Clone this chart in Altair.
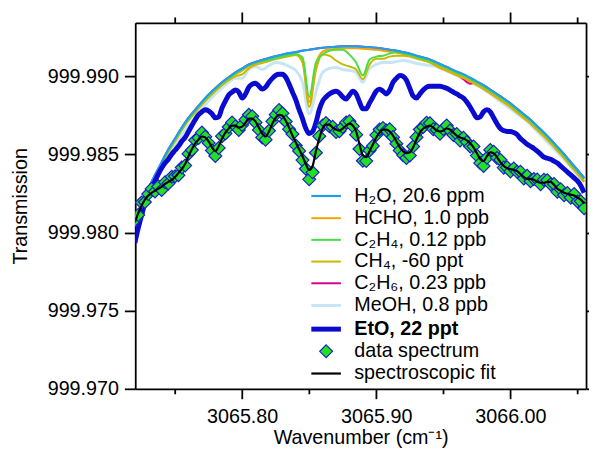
import altair as alt
import pandas as pd

FONT = "Liberation Sans"

# wavenumber grids (cm-1)
WN_COARSE = [
    3065.720, 3065.725, 3065.730, 3065.735, 3065.740, 3065.745, 3065.750, 3065.755, 3065.760, 3065.765,
    3065.770, 3065.775, 3065.780, 3065.785, 3065.790, 3065.795, 3065.800, 3065.805, 3065.810, 3065.815,
    3065.820, 3065.825, 3065.830, 3065.835, 3065.840, 3065.845, 3065.850, 3065.855, 3065.860, 3065.865,
    3065.870, 3065.875, 3065.880, 3065.885, 3065.890, 3065.895, 3065.900, 3065.905, 3065.910, 3065.915,
    3065.920, 3065.925, 3065.930, 3065.935, 3065.940, 3065.945, 3065.950, 3065.955, 3065.960, 3065.965,
    3065.970, 3065.975, 3065.980, 3065.985, 3065.990, 3065.995, 3066.000, 3066.005, 3066.010, 3066.015,
    3066.020, 3066.025, 3066.030, 3066.035, 3066.040, 3066.045, 3066.050, 3066.055,
]
WN_FINE = [
    3065.7200, 3065.7225, 3065.7250, 3065.7275, 3065.7300, 3065.7325, 3065.7350, 3065.7375, 3065.7400, 3065.7425,
    3065.7450, 3065.7475, 3065.7500, 3065.7525, 3065.7550, 3065.7575, 3065.7600, 3065.7625, 3065.7650, 3065.7675,
    3065.7700, 3065.7725, 3065.7750, 3065.7775, 3065.7800, 3065.7825, 3065.7850, 3065.7875, 3065.7900, 3065.7925,
    3065.7950, 3065.7975, 3065.8000, 3065.8025, 3065.8050, 3065.8075, 3065.8100, 3065.8125, 3065.8150, 3065.8175,
    3065.8200, 3065.8225, 3065.8250, 3065.8275, 3065.8300, 3065.8325, 3065.8350, 3065.8375, 3065.8400, 3065.8425,
    3065.8450, 3065.8475, 3065.8500, 3065.8525, 3065.8550, 3065.8575, 3065.8600, 3065.8625, 3065.8650, 3065.8675,
    3065.8700, 3065.8725, 3065.8750, 3065.8775, 3065.8800, 3065.8825, 3065.8850, 3065.8875, 3065.8900, 3065.8925,
    3065.8950, 3065.8975, 3065.9000, 3065.9025, 3065.9050, 3065.9075, 3065.9100, 3065.9125, 3065.9150, 3065.9175,
    3065.9200, 3065.9225, 3065.9250, 3065.9275, 3065.9300, 3065.9325, 3065.9350, 3065.9375, 3065.9400, 3065.9425,
    3065.9450, 3065.9475, 3065.9500, 3065.9525, 3065.9550, 3065.9575, 3065.9600, 3065.9625, 3065.9650, 3065.9675,
    3065.9700, 3065.9725, 3065.9750, 3065.9775, 3065.9800, 3065.9825, 3065.9850, 3065.9875, 3065.9900, 3065.9925,
    3065.9950, 3065.9975, 3066.0000, 3066.0025, 3066.0050, 3066.0075, 3066.0100, 3066.0125, 3066.0150, 3066.0175,
    3066.0200, 3066.0225, 3066.0250, 3066.0275, 3066.0300, 3066.0325, 3066.0350, 3066.0375, 3066.0400, 3066.0425,
    3066.0450, 3066.0475, 3066.0500, 3066.0525, 3066.0550,
]

H2O = [
    999.98090, 999.98185, 999.98280, 999.98368, 999.98450, 999.98532, 999.98601, 999.98671, 999.98734, 999.98785,
    999.98835, 999.98882, 999.98923, 999.98961, 999.98993, 999.99024, 999.99049, 999.99075, 999.99091, 999.99103,
    999.99116, 999.99128, 999.99138, 999.99147, 999.99154, 999.99163, 999.99169, 999.99176, 999.99182, 999.99185,
    999.99188, 999.99191, 999.99191, 999.99191, 999.99188, 999.99185, 999.99182, 999.99176, 999.99169, 999.99163,
    999.99154, 999.99144, 999.99131, 999.99119, 999.99106, 999.99087, 999.99068, 999.99049, 999.99030, 999.99012,
    999.98990, 999.98967, 999.98942, 999.98914, 999.98885, 999.98857, 999.98826, 999.98791, 999.98756, 999.98721,
    999.98680, 999.98639, 999.98595, 999.98548, 999.98501, 999.98450, 999.98400, 999.98349,
]
HCHO = [
    999.98081, 999.98176, 999.98270, 999.98358, 999.98440, 999.98522, 999.98592, 999.98661, 999.98724, 999.98776,
    999.98825, 999.98873, 999.98914, 999.98951, 999.98984, 999.99011, 999.99036, 999.99062, 999.99078, 999.99090,
    999.99103, 999.99115, 999.99125, 999.99134, 999.99141, 999.99112, 999.98835, 999.99075, 999.99157, 999.99172,
    999.99175, 999.99178, 999.99178, 999.99178, 999.99175, 999.99172, 999.99169, 999.99163, 999.99156, 999.99150,
    999.99141, 999.99131, 999.99118, 999.99106, 999.99093, 999.99068, 999.99049, 999.99030, 999.99011, 999.98993,
    999.98971, 999.98948, 999.98923, 999.98895, 999.98866, 999.98838, 999.98807, 999.98772, 999.98737, 999.98702,
    999.98661, 999.98620, 999.98576, 999.98529, 999.98482, 999.98431, 999.98381, 999.98330,
]
C2H4 = [
    999.98084, 999.98179, 999.98274, 999.98362, 999.98444, 999.98526, 999.98595, 999.98665, 999.98728, 999.98779,
    999.98829, 999.98876, 999.98917, 999.98955, 999.98987, 999.99018, 999.99043, 999.99069, 999.99085, 999.99097,
    999.99103, 999.99115, 999.99125, 999.99134, 999.99141, 999.99119, 999.98867, 999.99087, 999.99138, 999.99163,
    999.99169, 999.99169, 999.99138, 999.99087, 999.99005, 999.99106, 999.99125, 999.99131, 999.99144, 999.99154,
    999.99145, 999.99135, 999.99122, 999.99110, 999.99097, 999.99078, 999.99059, 999.99040, 999.99021, 999.99003,
    999.98981, 999.98958, 999.98933, 999.98905, 999.98876, 999.98848, 999.98817, 999.98782, 999.98747, 999.98712,
    999.98671, 999.98630, 999.98586, 999.98539, 999.98492, 999.98441, 999.98391, 999.98340,
]
CH4 = [
    999.98071, 999.98166, 999.98261, 999.98349, 999.98431, 999.98513, 999.98582, 999.98652, 999.98715, 999.98766,
    999.98816, 999.98863, 999.98904, 999.98942, 999.98974, 999.98999, 999.99012, 999.99049, 999.99072, 999.99084,
    999.99097, 999.99109, 999.99119, 999.99128, 999.99135, 999.99087, 999.98803, 999.99037, 999.99138, 999.99131,
    999.99100, 999.99075, 999.99062, 999.99043, 999.98980, 999.99075, 999.99112, 999.99112, 999.99125, 999.99131,
    999.99131, 999.99125, 999.99112, 999.99100, 999.99087, 999.99062, 999.99043, 999.99024, 999.99005, 999.98987,
    999.98965, 999.98942, 999.98917, 999.98889, 999.98860, 999.98832, 999.98801, 999.98766, 999.98731, 999.98696,
    999.98655, 999.98614, 999.98570, 999.98523, 999.98476, 999.98425, 999.98375, 999.98324,
]
C2H6 = [
    999.98090, 999.98185, 999.98280, 999.98368, 999.98450, 999.98532, 999.98601, 999.98671, 999.98734, 999.98785,
    999.98835, 999.98882, 999.98923, 999.98961, 999.98993, 999.99024, 999.99049, 999.99075, 999.99091, 999.99103,
    999.99116, 999.99128, 999.99138, 999.99147, 999.99154, 999.99163, 999.99169, 999.99176, 999.99182, 999.99185,
    999.99188, 999.99191, 999.99191, 999.99191, 999.99188, 999.99185, 999.99182, 999.99176, 999.99169, 999.99163,
    999.99154, 999.99144, 999.99131, 999.99119, 999.99106, 999.99087, 999.99068, 999.99049, 999.99018, 999.98980,
    999.98952, 999.98961, 999.98942, 999.98914, 999.98885, 999.98857, 999.98826, 999.98791, 999.98756, 999.98721,
    999.98680, 999.98639, 999.98595, 999.98548, 999.98501, 999.98450, 999.98400, 999.98349,
]
MEOH = [
    999.98040, 999.98141, 999.98236, 999.98324, 999.98406, 999.98482, 999.98551, 999.98620, 999.98684, 999.98734,
    999.98791, 999.98841, 999.98886, 999.98923, 999.98961, 999.98986, 999.98986, 999.99043, 999.99062, 999.99043,
    999.99068, 999.99087, 999.99081, 999.99062, 999.99037, 999.98961, 999.98759, 999.98898, 999.99024, 999.99049,
    999.99056, 999.99043, 999.99037, 999.99024, 999.98961, 999.99049, 999.99075, 999.99087, 999.99087, 999.99093,
    999.99100, 999.99093, 999.99081, 999.99075, 999.99068, 999.99062, 999.99043, 999.99024, 999.99005, 999.98986,
    999.98967, 999.98942, 999.98917, 999.98886, 999.98854, 999.98822, 999.98791, 999.98759, 999.98728, 999.98690,
    999.98646, 999.98601, 999.98557, 999.98513, 999.98469, 999.98419, 999.98368, 999.98324,
]
ETO = [
    999.97933, 999.98027, 999.98109, 999.98185, 999.98236, 999.98280, 999.98330, 999.98374, 999.98412, 999.98444,
    999.98469, 999.98501, 999.98526, 999.98551, 999.98583, 999.98608, 999.98646, 999.98684, 999.98721, 999.98753,
    999.98772, 999.98785, 999.98778, 999.98759, 999.98734, 999.98740, 999.98797, 999.98841, 999.98879, 999.98898,
    999.98911, 999.98898, 999.98860, 999.98886, 999.98930, 999.98949, 999.98955, 999.98936, 999.98917, 999.98930,
    999.98961, 999.98986, 999.99005, 999.99012, 999.99012, 999.98993, 999.98949, 999.98898, 999.98848, 999.98785,
    999.98728, 999.98665, 999.98633, 999.98646, 999.98702, 999.98785, 999.98841, 999.98867, 999.98886, 999.98898,
    999.98904, 999.98892, 999.98867, 999.98854, 999.98879, 999.98904, 999.98886, 999.98835, 999.98791, 999.98791,
    999.98829, 999.98867, 999.98904, 999.98917, 999.98904, 999.98886, 999.98911, 999.98961, 999.98986, 999.99005,
    999.98999, 999.98974, 999.98923, 999.98873, 999.98860, 999.98886, 999.98911, 999.98930, 999.98936, 999.98936,
    999.98936, 999.98936, 999.98930, 999.98923, 999.98911, 999.98898, 999.98886, 999.98873, 999.98860, 999.98835,
    999.98803, 999.98766, 999.98734, 999.98740, 999.98772, 999.98785, 999.98772, 999.98734, 999.98696, 999.98665,
    999.98652, 999.98646, 999.98646, 999.98639, 999.98627, 999.98601, 999.98583, 999.98564, 999.98551, 999.98538,
    999.98520, 999.98501, 999.98482, 999.98475, 999.98469, 999.98456, 999.98444, 999.98425, 999.98406, 999.98387,
    999.98368, 999.98349, 999.98330, 999.98299, 999.98254,
]
FIT = [
    999.98065, 999.98122, 999.98172, 999.98210, 999.98236, 999.98254, 999.98267, 999.98280, 999.98292, 999.98311,
    999.98324, 999.98337, 999.98355, 999.98381, 999.98406, 999.98438, 999.98488, 999.98532, 999.98570, 999.98595,
    999.98614, 999.98608, 999.98583, 999.98545, 999.98520, 999.98551, 999.98601, 999.98639, 999.98665, 999.98684,
    999.98684, 999.98671, 999.98677, 999.98702, 999.98728, 999.98728, 999.98709, 999.98671, 999.98633, 999.98614,
    999.98646, 999.98696, 999.98734, 999.98753, 999.98747, 999.98715, 999.98671, 999.98620, 999.98576, 999.98532,
    999.98488, 999.98438, 999.98400, 999.98425, 999.98520, 999.98601, 999.98665, 999.98690, 999.98690, 999.98671,
    999.98658, 999.98652, 999.98665, 999.98684, 999.98696, 999.98684, 999.98646, 999.98564, 999.98494, 999.98482,
    999.98520, 999.98564, 999.98608, 999.98639, 999.98658, 999.98658, 999.98646, 999.98620, 999.98583, 999.98545,
    999.98520, 999.98507, 999.98513, 999.98545, 999.98595, 999.98639, 999.98665, 999.98677, 999.98684, 999.98671,
    999.98652, 999.98646, 999.98652, 999.98665, 999.98658, 999.98639, 999.98620, 999.98608, 999.98601, 999.98589,
    999.98570, 999.98545, 999.98507, 999.98469, 999.98456, 999.98488, 999.98513, 999.98507, 999.98482, 999.98450,
    999.98425, 999.98412, 999.98406, 999.98400, 999.98393, 999.98374, 999.98355, 999.98343, 999.98343, 999.98337,
    999.98324, 999.98318, 999.98318, 999.98324, 999.98324, 999.98305, 999.98280, 999.98267, 999.98254, 999.98248,
    999.98242, 999.98236, 999.98223, 999.98210, 999.98185,
]
DATA = [
    999.98080, 999.98112, 999.98192, 999.98195, 999.98246, 999.98279, 999.98262, 999.98295, 999.98272, 999.98321,
    999.98314, 999.98357, 999.98360, 999.98366, 999.98416, 999.98428, 999.98503, 999.98527, 999.98590, 999.98605,
    999.98639, 999.98613, 999.98573, 999.98525, 999.98490, 999.98541, 999.98616, 999.98634, 999.98675, 999.98704,
    999.98679, 999.98656, 999.98687, 999.98722, 999.98753, 999.98743, 999.98704, 999.98656, 999.98608, 999.98594,
    999.98651, 999.98711, 999.98754, 999.98783, 999.98762, 999.98710, 999.98661, 999.98630, 999.98556, 999.98522,
    999.98463, 999.98408, 999.98340, 999.98385, 999.98510, 999.98616, 999.98685, 999.98700, 999.98680, 999.98676,
    999.98643, 999.98647, 999.98675, 999.98704, 999.98711, 999.98679, 999.98626, 999.98534, 999.98459, 999.98457,
    999.98525, 999.98554, 999.98623, 999.98659, 999.98668, 999.98653, 999.98661, 999.98610, 999.98568, 999.98525,
    999.98495, 999.98477, 999.98493, 999.98550, 999.98610, 999.98659, 999.98675, 999.98702, 999.98699, 999.98661,
    999.98657, 999.98631, 999.98662, 999.98685, 999.98653, 999.98624, 999.98630, 999.98588, 999.98606, 999.98579,
    999.98550, 999.98550, 999.98492, 999.98444, 999.98426, 999.98478, 999.98528, 999.98517, 999.98477, 999.98465,
    999.98415, 999.98417, 999.98391, 999.98410, 999.98388, 999.98389, 999.98345, 999.98363, 999.98328, 999.98342,
    999.98339, 999.98308, 999.98338, 999.98334, 999.98309, 999.98310, 999.98260, 999.98277, 999.98239, 999.98253,
    999.98222, 999.98246, 999.98198, 999.98200, 999.98155,
]

SERIES = ["H₂O, 20.6 ppm", "HCHO, 1.0 ppb", "C₂H₄, 0.12 ppb", "CH₄, -60 ppt", "C₂H₆, 0.23 ppb",
          "MeOH, 0.8 ppb", "EtO, 22 ppt", "data spectrum", "spectroscopic fit"]
COLORS = ["#1e9fea", "#f7a400", "#44e044", "#c8b800", "#d4008f",
          "#c6e6f8", "#0a0ad0", "#1c1cd0", "#000000"]
WIDTHS = [2.2, 2, 2, 2, 2, 3, 5, 1.2, 2.2]
X_TICKS = [3065.75, 3065.80, 3065.85, 3065.90, 3065.95, 3066.00, 3066.05]
Y_TICKS = [999.970, 999.975, 999.980, 999.985, 999.990]
X_DOMAIN = [3065.7203, 3066.0564]
Y_DOMAIN = [999.970, 999.99341]


def frame(wn, vals, name):
    return pd.DataFrame({"wn": wn, "t": vals, "series": name})


XS = alt.Scale(domain=X_DOMAIN, nice=False, zero=False)
YS = alt.Scale(domain=Y_DOMAIN, nice=False, zero=False)

AX = dict(grid=False, domainColor="black", domainWidth=1.8, tickColor="black", tickWidth=1.8,
          labelFont=FONT, labelFontSize=20, labelColor="black",
          titleFont=FONT, titleFontSize=20, titleFontWeight="normal", titleColor="black")
MINOR = "round(datum.value * 20) % 2 == 1"

x_bottom = alt.Axis(orient="bottom", values=X_TICKS,
                    tickSize={"condition": {"test": MINOR, "value": 5}, "value": 10},
                    labelExpr="round(datum.value * 20) % 2 == 1 ? '' : format(datum.value, '.2f')",
                    labelPadding=8, labelOverlap=False, title="Wavenumber (cm⁻¹)", titlePadding=1, **AX)
x_top = alt.Axis(orient="top", values=X_TICKS,
                 tickSize={"condition": {"test": MINOR, "value": 6}, "value": 11},
                 labels=False, title="", **AX)
y_left = alt.Axis(orient="left", values=Y_TICKS, format=".3f", tickSize=11, labelPadding=6,
                  labelOverlap=False, title="Transmission", titlePadding=17, **AX)
y_right = alt.Axis(orient="right", values=Y_TICKS, tickSize=8, labels=False, title="", **AX)

IS_DATA = "datum.value === 'data spectrum'"
LEGEND = alt.Legend(
    title=None, orient="none", legendX=181, legendY=164, padding=0,
    symbolType={"expr": IS_DATA + " ? 'M0,-0.65L0.65,0L0,0.65L-0.65,0Z' : 'M-1.5,0H1.5'"},
    symbolFillColor={"expr": IS_DATA + " ? '#22e022' : 'transparent'"},
    symbolSize=400,
    labelFont=FONT, labelFontSize=20, labelColor="black", labelOffset=16, labelLimit=320,
    labelFontWeight={"expr": "datum.value === 'EtO, 22 ppt' ? 'bold' : 'normal'"},
    rowPadding=1,
)
COLOR = alt.Color("series:N", scale=alt.Scale(domain=SERIES, range=COLORS), legend=LEGEND)
WIDTH = alt.StrokeWidth("series:N", scale=alt.Scale(type="ordinal", domain=SERIES, range=WIDTHS),
                        legend=LEGEND)


def line(df, xaxis, yaxis):
    return alt.Chart(df).mark_line(interpolate="monotone", clip=True).encode(
        x=alt.X("wn:Q", scale=XS, axis=xaxis),
        y=alt.Y("t:Q", scale=YS, axis=yaxis),
        color=COLOR,
        strokeWidth=WIDTH,
    )


layers = [
    line(frame(WN_COARSE, MEOH, SERIES[5]), x_bottom, y_left),
    line(frame(WN_COARSE, C2H6, SERIES[4]), x_top, y_right),
    line(frame(WN_COARSE, CH4, SERIES[3]), None, None),
    line(frame(WN_COARSE, HCHO, SERIES[1]), None, None),
    line(frame(WN_COARSE, C2H4, SERIES[2]), None, None),
    line(frame(WN_COARSE, H2O, SERIES[0]), None, None),
    line(frame(WN_FINE, ETO, SERIES[6]), None, None),
    alt.Chart(frame(WN_FINE, DATA, SERIES[7])).mark_point(
        shape="diamond", filled=True, size=170, fill="#22e022", stroke="#1c1cd0",
        strokeWidth=1.2, opacity=1, clip=True,
    ).encode(
        x=alt.X("wn:Q", scale=XS, axis=None),
        y=alt.Y("t:Q", scale=YS, axis=None),
    ),
    line(frame(WN_FINE, FIT, SERIES[8]), None, None),
]

chart = alt.layer(*layers).resolve_axis(x="independent", y="independent").properties(
    width=457, height=371,
    autosize=alt.AutoSizeParams(type="none"),
    padding={"left": 129, "top": 12, "right": 3, "bottom": 62},
).configure_view(strokeWidth=0)

chart.save("out.html", embed_options={"renderer": "svg", "actions": False})
